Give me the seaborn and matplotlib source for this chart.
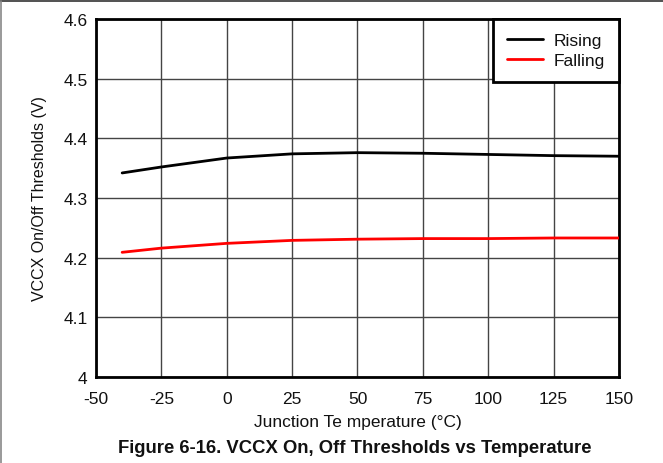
import pandas as pd
import seaborn as sns
import matplotlib.pyplot as plt
from matplotlib.lines import Line2D

# values
temps = [-40, -25, 0, 25, 50, 75, 100, 125, 150]
rising = [4.342, 4.352, 4.367, 4.374, 4.376, 4.375, 4.373, 4.371, 4.370]
falling = [4.209, 4.216, 4.224, 4.229, 4.231, 4.232, 4.232, 4.233, 4.233]
x_ticks = [-50, -25, 0, 25, 50, 75, 100, 125, 150]
y_ticks = [4, 4.1, 4.2, 4.3, 4.4, 4.5, 4.6]
y_tick_labels = ['4', '4.1', '4.2', '4.3', '4.4', '4.5', '4.6']

df = pd.DataFrame({
    'Temp': temps * 2,
    'Value': rising + falling,
    'Series': ['Rising'] * len(temps) + ['Falling'] * len(temps),
})

sns.set_style('white')
plt.rcParams['font.family'] = ['Liberation Sans', 'DejaVu Sans']
plt.rcParams['axes.unicode_minus'] = False

fig = plt.figure(figsize=(6.63, 4.64), dpi=100)
ax = fig.add_axes([0.1448, 0.1853, 0.7888, 0.7716])

sns.lineplot(data=df, x='Temp', y='Value', hue='Series',
             palette={'Rising': 'black', 'Falling': '#ff0000'},
             linewidth=2, ax=ax, legend=False, zorder=3)

ax.set_xlim(-50, 150)
ax.set_ylim(4, 4.6)
ax.set_xticks(x_ticks)
ax.set_yticks(y_ticks)
ax.set_yticklabels(y_tick_labels)
ax.tick_params(length=0, labelsize=12.5, colors='#111111')
ax.tick_params(axis='x', pad=10)
ax.tick_params(axis='y', pad=6)
ax.grid(True, color='#444444', linewidth=1)
for s in ax.spines.values():
    s.set_color('black')
    s.set_linewidth(2)
    s.set_visible(True)

ax.set_xlabel('Junction Te mperature (°C)', fontsize=12.5, labelpad=6, color='#111111')
ax.set_ylabel('VCCX On/Off Thresholds (V)', fontsize=11.5, labelpad=12, color='#111111')

handles = [Line2D([], [], color='black', lw=2), Line2D([], [], color='#ff0000', lw=2)]
leg = ax.legend(handles, ['Rising', 'Falling'], loc='upper right', fontsize=12.5,
                borderaxespad=0, fancybox=False, framealpha=1,
                handlelength=2.1, handletextpad=0.6, labelspacing=0.3, borderpad=0.8)
leg.get_frame().set_edgecolor('black')
leg.get_frame().set_linewidth(2)
for t in leg.get_texts():
    t.set_color('#111111')

fig.text(0.535, 0.034, 'Figure 6-16. VCCX On, Off Thresholds vs Temperature',
         ha='center', va='center', fontsize=13.3, fontweight='bold', color='#111111')

# page border lines
fig.add_artist(Line2D([0, 1], [0.995, 0.995], color='#333333', lw=1.2, transform=fig.transFigure))
fig.add_artist(Line2D([0.002, 0.002], [0, 0.995], color='#888888', lw=1.2, transform=fig.transFigure))

fig.savefig('out.png', dpi=100)
